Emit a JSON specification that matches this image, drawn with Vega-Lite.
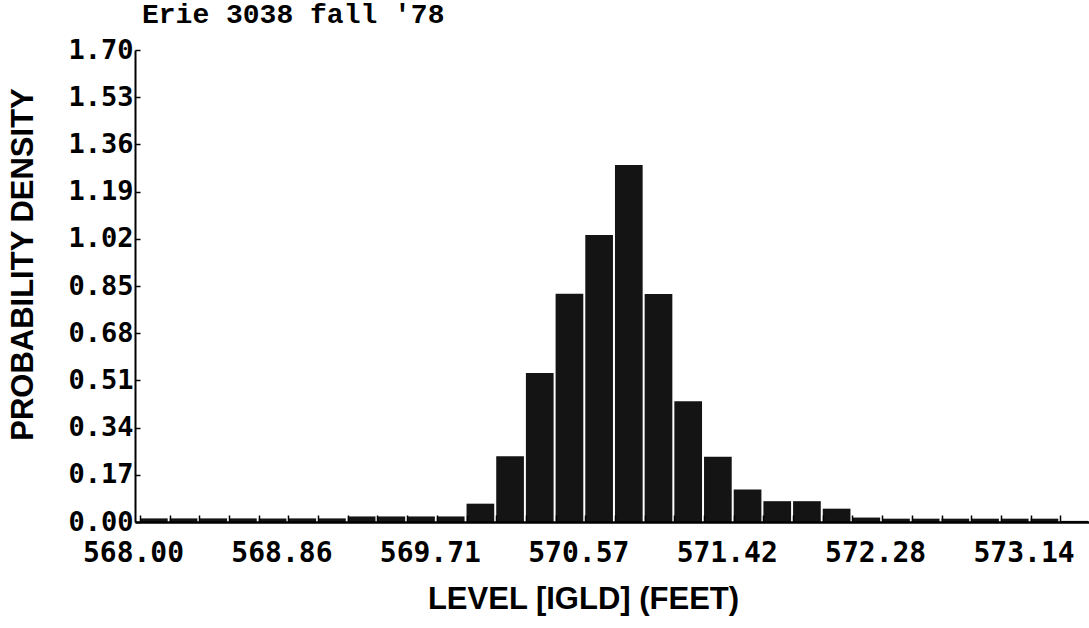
{
  "$schema": "https://vega.github.io/schema/vega-lite/v6.json",
  "width": 954,
  "height": 472,
  "autosize": {"type": "none"},
  "padding": {"left": 135, "top": 50, "right": 0, "bottom": 106},
  "background": "white",
  "config": {"view": {"stroke": null}},
  "title": {
    "text": "Erie 3038 fall '78",
    "anchor": "start",
    "frame": "group",
    "dx": 7,
    "offset": 7,
    "font": "Liberation Mono",
    "fontWeight": "bold",
    "fontSize": 28,
    "color": "#000000"
  },
  "data": {
    "values": [
      {"bin_start": 568.0, "bin_end": 568.1714286, "density": 0.013},
      {"bin_start": 568.1714286, "bin_end": 568.3428571, "density": 0.013},
      {"bin_start": 568.3428571, "bin_end": 568.5142857, "density": 0.013},
      {"bin_start": 568.5142857, "bin_end": 568.6857143, "density": 0.013},
      {"bin_start": 568.6857143, "bin_end": 568.8571429, "density": 0.013},
      {"bin_start": 568.8571429, "bin_end": 569.0285714, "density": 0.013},
      {"bin_start": 569.0285714, "bin_end": 569.2, "density": 0.013},
      {"bin_start": 569.2, "bin_end": 569.3714286, "density": 0.02},
      {"bin_start": 569.3714286, "bin_end": 569.5428571, "density": 0.02},
      {"bin_start": 569.5428571, "bin_end": 569.7142857, "density": 0.02},
      {"bin_start": 569.7142857, "bin_end": 569.8857143, "density": 0.02},
      {"bin_start": 569.8857143, "bin_end": 570.0571429, "density": 0.066},
      {"bin_start": 570.0571429, "bin_end": 570.2285714, "density": 0.237},
      {"bin_start": 570.2285714, "bin_end": 570.4, "density": 0.537},
      {"bin_start": 570.4, "bin_end": 570.5714286, "density": 0.822},
      {"bin_start": 570.5714286, "bin_end": 570.7428571, "density": 1.034},
      {"bin_start": 570.7428571, "bin_end": 570.9142857, "density": 1.286},
      {"bin_start": 570.9142857, "bin_end": 571.0857143, "density": 0.821},
      {"bin_start": 571.0857143, "bin_end": 571.2571429, "density": 0.435},
      {"bin_start": 571.2571429, "bin_end": 571.4285714, "density": 0.235},
      {"bin_start": 571.4285714, "bin_end": 571.6, "density": 0.117},
      {"bin_start": 571.6, "bin_end": 571.7714286, "density": 0.075},
      {"bin_start": 571.7714286, "bin_end": 571.9428571, "density": 0.075},
      {"bin_start": 571.9428571, "bin_end": 572.1142857, "density": 0.048},
      {"bin_start": 572.1142857, "bin_end": 572.2857143, "density": 0.016},
      {"bin_start": 572.2857143, "bin_end": 572.4571429, "density": 0.012},
      {"bin_start": 572.4571429, "bin_end": 572.6285714, "density": 0.012},
      {"bin_start": 572.6285714, "bin_end": 572.8, "density": 0.012},
      {"bin_start": 572.8, "bin_end": 572.9714286, "density": 0.012},
      {"bin_start": 572.9714286, "bin_end": 573.1428571, "density": 0.012},
      {"bin_start": 573.1428571, "bin_end": 573.3142857, "density": 0.012},
      {"bin_start": 573.3142857, "bin_end": 573.4857143, "density": 0.004}
    ]
  },
  "mark": {"type": "bar", "color": "#141414", "x2Offset": -2, "clip": true, "orient": "vertical"},
  "encoding": {
    "x": {
      "field": "bin_start",
      "type": "quantitative",
      "scale": {"domain": [568, 573.4514], "nice": false, "zero": false},
      "axis": {
        "zindex": 1,
        "title": "LEVEL [IGLD] (FEET)",
        "titleFont": "Liberation Sans",
        "titleFontWeight": "bold",
        "titleFontSize": 31,
        "titleColor": "#000000",
        "titleX": 448,
        "titleY": 77,
        "titleAlign": "center",
        "titleBaseline": "middle",
        "values": [568.0, 568.1714286, 568.3428571, 568.5142857, 568.6857143, 568.8571429, 569.0285714, 569.2, 569.3714286, 569.5428571, 569.7142857, 569.8857143, 570.0571429, 570.2285714, 570.4, 570.5714286, 570.7428571, 570.9142857, 571.0857143, 571.2571429, 571.4285714, 571.6, 571.7714286, 571.9428571, 572.1142857, 572.2857143, 572.4571429, 572.6285714, 572.8, 572.9714286, 573.1428571, 573.3142857],
        "labelExpr": "round((datum.value-568)*35/6) % 5 == 0 ? ['568.00','568.86','569.71','570.57','571.42','572.28','573.14'][round((datum.value-568)*7/6)] : ''",
        "labelOverlap": false,
        "labelBound": false,
        "labelFlush": false,
        "labelFont": "DejaVu Sans Mono",
        "labelFontWeight": "bold",
        "labelFontSize": 28,
        "labelColor": "#000000",
        "labelPadding": 24,
        "labelOffset": -7,
        "tickSize": -7,
        "tickColor": "#000000",
        "tickWidth": 1.5,
        "domainColor": "#000000",
        "domainWidth": 2.5,
        "grid": false
      }
    },
    "x2": {"field": "bin_end"},
    "y": {
      "field": "density",
      "type": "quantitative",
      "scale": {"domain": [0, 1.7], "nice": false},
      "axis": {
        "zindex": 1,
        "title": "PROBABILITY DENSITY",
        "titleFont": "Liberation Sans",
        "titleFontWeight": "bold",
        "titleFontSize": 31,
        "titleColor": "#000000",
        "titleAngle": -90,
        "titleX": -112,
        "titleY": 214,
        "titleAlign": "center",
        "titleBaseline": "middle",
        "values": [0, 0.17, 0.34, 0.51, 0.68, 0.85, 1.02, 1.19, 1.36, 1.53, 1.7],
        "format": ".2f",
        "labelFont": "DejaVu Sans Mono",
        "labelFontWeight": "bold",
        "labelFontSize": 27,
        "labelColor": "#000000",
        "labelPadding": 7,
        "labelOverlap": false,
        "labelBound": false,
        "labelFlush": false,
        "tickSize": -5,
        "tickColor": "#000000",
        "tickWidth": 1.5,
        "domainColor": "#000000",
        "domainWidth": 2,
        "grid": false
      }
    },
    "y2": {"datum": 0}
  }
}
